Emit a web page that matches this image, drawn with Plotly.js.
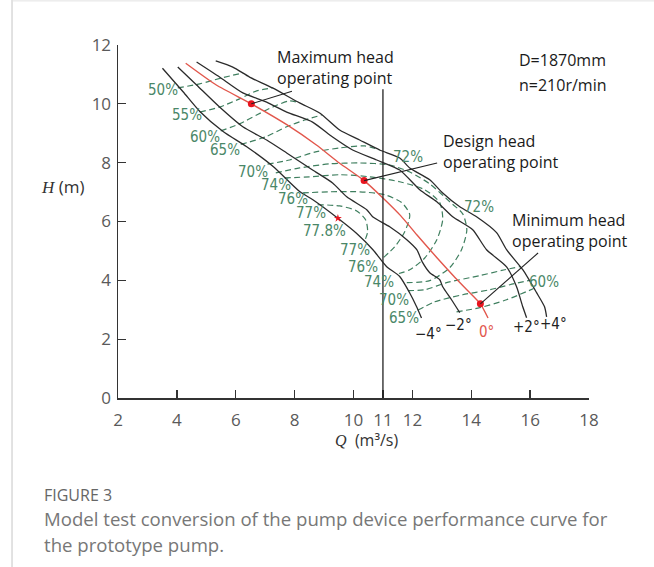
<!DOCTYPE html>
<html>
<head>
<meta charset="utf-8">
<script src="https://cdn.plot.ly/plotly-3.0.1.min.js"></script>
<style>html,body{margin:0;padding:0;background:#fff;}#chart{width:654px;height:567px;}</style>
</head>
<body>
<div id="chart"></div>
<script>
// ---- Blade-angle head curves (Q in m3/s, H in m) ----
const angleLabels = ['\u22124\u00b0', '\u22122\u00b0', '0\u00b0', '+2\u00b0', '+4\u00b0'];
const qM4 = [3.51,4.21,4.78,5.57,6.36,7.27,8.17,8.62,9.47,10.10,10.66,11.12,11.57,11.91,12.14,12.31];
const hM4 = [11.21,10.41,9.74,9.06,8.55,7.87,7.02,6.74,6.11,5.60,5.04,4.47,4.13,3.57,3.11,2.72];
const qM2 = [4.03,4.67,5.45,6.24,7.05,7.73,8.61,9.29,9.77,10.45,10.65,11.23,11.81,12.15,12.35,12.59,12.93,13.03,13.33,13.61];
const hM2 = [11.25,10.64,9.89,9.22,8.77,8.33,7.75,7.31,6.84,6.40,6.16,5.82,5.38,5.04,4.60,4.26,4.02,3.78,3.34,2.90];
const q00 = [4.30,5.34,6.53,7.72,8.74,9.53,10.36,11.00,11.60,12.15,12.85,13.40,13.85,14.31,14.57];
const h00 = [11.38,10.64,10.00,9.30,8.60,7.98,7.39,6.80,6.20,5.55,4.75,4.15,3.68,3.20,2.72];
const qP2 = [4.67,5.45,6.24,7.05,7.73,8.61,9.29,9.97,10.79,11.57,12.25,12.83,13.37,14.05,14.52,15.20,15.54,15.75,15.88];
const hP2 = [11.42,10.91,10.37,10.06,9.72,9.38,8.87,8.43,8.09,7.75,7.08,6.67,6.16,5.72,5.04,4.46,3.78,3.10,2.73];
const qP4 = [5.32,5.90,6.47,7.25,8.17,8.85,9.53,10.21,10.89,11.57,11.91,12.59,13.03,13.61,14.18,14.86,15.20,15.75,16.22,16.49,16.56];
const hP4 = [11.46,11.25,10.91,10.54,10.03,9.69,9.11,8.77,8.43,8.16,7.82,7.42,6.97,6.50,6.16,5.62,5.04,4.36,3.58,3.10,2.76];

// ---- Efficiency contours ----
const q50 = [4.03,4.78,5.52,6.24];            const h50 = [10.54,10.68,10.88,11.05];
const q55 = [4.78,5.45,6.13,6.71,7.25];       const h55 = [9.72,9.89,10.17,10.44,10.54];
const q60 = [5.49,6.13,6.71,7.25,7.83,8.17];  const h60 = [9.08,9.32,9.62,9.89,10.10,10.03];
const q65 = [6.17,7.02,7.73,8.34,8.92];       const h65 = [8.62,8.88,9.22,9.45,9.62];
const q70u = [7.08,7.83,8.68,9.53,10.38,10.89]; const h70u = [7.95,8.09,8.36,8.50,8.57,8.43];
const q72 = [7.36,8.17,9.19,10.21,11.23,11.91,12.59,13.27,13.71,13.85,13.67,13.27,12.59,11.70];
const h72 = [7.65,7.82,7.96,7.99,7.92,7.68,7.28,6.67,6.26,5.72,5.04,4.43,3.99,3.92];
const q74 = [7.66,8.51,9.53,10.55,11.57,12.42,12.93,13.03,12.83,12.42,11.91,11.47];
const h74 = [7.48,7.52,7.59,7.52,7.35,7.08,6.64,6.06,5.38,4.76,4.36,4.21];
const q76 = [8.27,9.19,10.21,11.06,11.64,11.91,11.74,11.40,10.96];
const h76 = [6.97,7.01,7.01,6.91,6.64,6.23,5.65,5.14,4.72];
const q77 = [8.78,9.53,10.11,10.41,10.48,10.38];
const h77 = [6.57,6.53,6.36,6.06,5.65,5.34];
const q70l = [11.85,12.42,13.16,14.29,15.14,15.68]; const h70l = [3.65,3.68,3.92,4.16,4.36,4.47];
const q65l = [12.18,12.76,13.71,14.63,15.31,15.98]; const h65l = [2.98,3.27,3.51,3.68,3.85,4.00];
const q60l = [13.50,14.29,15.20,16.12];          const h60l = [2.93,3.07,3.34,3.72];

// ---- Operating points ----
const opQ = [6.53, 10.36, 14.31];
const opH = [10.00, 7.39, 3.20];
const bestQ = [9.47];
const bestH = [6.11];
const designQ = 11;
const effLabels = ['50%','55%','60%','65%','70%','74%','76%','77%','77.8%','77%','76%','74%','70%','65%','72%','72%','60%'];
const xTicks = [2,4,6,8,10,11,12,14,16,18];
const yTicks = [0,2,4,6,8,10,12];

const BLACK = '#2b2b2b', RED = '#e2574c', GREEN = '#3f7f5f', GTXT = '#4a8768';
const NARROW = '"Liberation Sans Narrow","Arial Narrow","DejaVu Sans Condensed",sans-serif';
const SANS = '"Open Sans","Noto Sans",sans-serif';

function curve(x, y, color, w) {
  return {x: x, y: y, type: 'scatter', mode: 'lines', hoverinfo: 'skip',
          line: {color: color, width: w, shape: 'spline', smoothing: 0.6}};
}
function dashed(x, y) {
  return {x: x, y: y, type: 'scatter', mode: 'lines', hoverinfo: 'skip',
          line: {color: GREEN, width: 1.2, dash: '6px,3.5px', shape: 'spline', smoothing: 0.7}};
}

const traces = [
  dashed(q50,h50), dashed(q55,h55), dashed(q60,h60), dashed(q65,h65), dashed(q70u,h70u),
  dashed(q72,h72), dashed(q74,h74), dashed(q76,h76), dashed(q77,h77),
  dashed(q70l,h70l), dashed(q65l,h65l), dashed(q60l,h60l),
  curve(qM4,hM4,BLACK,1.3), curve(qM2,hM2,BLACK,1.3), curve(qP2,hP2,BLACK,1.3), curve(qP4,hP4,BLACK,1.3),
  curve(q00,h00,RED,1.4),
  {x: opQ, y: opH, type:'scatter', mode:'markers', hoverinfo:'skip', marker:{color:'#e8141e', size:7}},
  {x: bestQ, y: bestH, type:'scatter', mode:'markers', hoverinfo:'skip', marker:{color:'#e8141e', size:6, symbol:'star'}}
];

// label positions (layout only)
const effPos = [[3.54,10.47],[4.33,9.62],[4.96,8.88],[5.63,8.43],[6.60,7.69],[7.36,7.24],[7.93,6.76],[8.55,6.28],[9.00,5.68],
                [10.05,5.03],[10.33,4.46],[10.87,3.95],[11.37,3.33],[11.71,2.72],[11.85,8.20],[14.26,6.50],[16.47,3.94]];
const angPos = [[12.56,2.18],[13.55,2.48],[14.53,2.24],[15.89,2.41],[16.81,2.52]];

const ann = [];
effLabels.forEach((t,i) => ann.push({x: effPos[i][0], y: effPos[i][1], xref:'x', yref:'y', text: t, showarrow:false,
  xanchor:'center', yanchor:'middle', font:{family: NARROW, size: 15, color: GTXT}}));
angleLabels.forEach((t,i) => ann.push({x: angPos[i][0], y: angPos[i][1], xref:'x', yref:'y', text: t, showarrow:false,
  xanchor:'center', yanchor:'middle', font:{family: NARROW, size: 15, color: i===2 ? RED : '#222'}}));

const TXT = {family: SANS, size: 16, color: '#1a1a1a'};
ann.push({x: 7.33, y: 11.23, xref:'x', yref:'y', text:'Maximum head<br>operating point', showarrow:false, xanchor:'left', yanchor:'middle', align:'left', font: TXT});
ann.push({x: 15.55, y: 11.49, xref:'x', yref:'y', text:'D=1870mm', showarrow:false, xanchor:'left', yanchor:'middle', font: TXT});
ann.push({x: 15.55, y: 10.64, xref:'x', yref:'y', text:'n=210r/min', showarrow:false, xanchor:'left', yanchor:'middle', font: TXT});
ann.push({x: 12.97, y: 8.37, xref:'x', yref:'y', text:'Design head<br>operating point', showarrow:false, xanchor:'left', yanchor:'middle', align:'left', font: TXT});
ann.push({x: 15.32, y: 5.70, xref:'x', yref:'y', text:'Minimum head<br>operating point', showarrow:false, xanchor:'left', yanchor:'middle', align:'left', font: TXT});

// axis titles
ann.push({x: 0.527, y: -0.119, xref:'paper', yref:'paper', showarrow:false, xanchor:'center', yanchor:'middle',
  text: '<span style="font-family:Liberation Serif"><i>Q</i></span>  (m\u00b3/s)', font:{family: SANS, size: 16, color:'#333'}});
ann.push({x: -0.117, y: 0.598, xref:'paper', yref:'paper', showarrow:false, xanchor:'center', yanchor:'middle',
  text: '<span style="font-family:Liberation Serif"><i>H</i></span> (m)', font:{family: SANS, size: 17, color:'#333'}});

// caption
ann.push({x: -0.162, y: -0.275, xref:'paper', yref:'paper', showarrow:false, xanchor:'left', yanchor:'middle',
  text: 'FIGURE 3', font:{family: SANS, size: 16, color:'#666'}});
ann.push({x: -0.162, y: -0.340, xref:'paper', yref:'paper', showarrow:false, xanchor:'left', yanchor:'middle',
  text: 'Model test conversion of the pump device performance curve for', font:{family: SANS, size: 18.6, color:'#777'}});
ann.push({x: -0.162, y: -0.416, xref:'paper', yref:'paper', showarrow:false, xanchor:'left', yanchor:'middle',
  text: 'the prototype pump.', font:{family: SANS, size: 18.6, color:'#777'}});

const shapes = [
  {type:'line', xref:'x', yref:'y', x0: designQ, x1: designQ, y0: 0, y1: 10.5, line:{color:'#222', width:1.3}},
  {type:'line', xref:'x', yref:'y', x0: opQ[0], y0: opH[0], x1: 7.91, y1: 10.43, line:{color:'#222', width:1.1}},
  {type:'line', xref:'x', yref:'y', x0: opQ[1], y0: opH[1], x1: 12.84, y1: 7.99, line:{color:'#222', width:1.1}},
  {type:'line', xref:'x', yref:'y', x0: opQ[2], y0: opH[2], x1: 16.27, y1: 4.93, line:{color:'#222', width:1.1}},
  {type:'line', xref:'paper', yref:'paper', x0: -0.225, x1: -0.225, y0: -0.48, y1: 1.13, line:{color:'#cfcfcf', width:1.2}},
  {type:'line', xref:'paper', yref:'paper', x0: -0.225, x1: 1.15, y0: 1.125, y1: 1.125, line:{color:'#e2e2e2', width:1}}
];

const axisCommon = {showgrid:false, zeroline:false, showline:true, linecolor:'#333', linewidth:1.5,
  ticks:'inside', ticklen:8, tickwidth:1.3, tickcolor:'#333', tickfont:{family: SANS, size:17, color:'#5a5a5a'}, fixedrange:true};

const layout = {
  width: 654, height: 567, autosize:false,
  margin: {l:118, r:65, t:45, b:169, pad:0},
  paper_bgcolor:'#fff', plot_bgcolor:'#fff', showlegend:false,
  xaxis: Object.assign({}, axisCommon, {range:[2,18], tickmode:'array', tickvals: xTicks, ticktext: xTicks.map(String), ticklabelstandoff: 6}),
  yaxis: Object.assign({}, axisCommon, {range:[0,12], tickmode:'array', tickvals: yTicks, ticktext: yTicks.map(String), ticklabelstandoff: 2}),
  annotations: ann, shapes: shapes
};

Plotly.newPlot('chart', traces, layout, {displayModeBar:false, staticPlot:true});
</script>
</body>
</html>
